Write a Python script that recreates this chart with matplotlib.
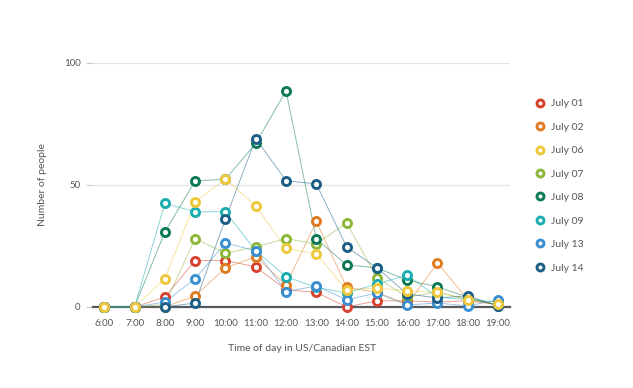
import matplotlib
matplotlib.use('Agg')
import matplotlib.pyplot as plt

plt.rcParams['font.family'] = ['Lato', 'DejaVu Sans']

hours = ['6:00', '7:00', '8:00', '9:00', '10:00', '11:00', '12:00',
         '13:00', '14:00', '15:00', '16:00', '17:00', '18:00', '19:00']

july01 = [0, 0, 4, 19, 19, 16.4, 7, 6, 0, 2.5, 2.5, 2, 2.5, 1]
july02 = [0, 0, 0, 4.5, 16, 20.5, 9, 35, 8, 6, 1, 18, 3, 1]
july06 = [0, 0, 11.5, 43, 52.5, 41.4, 24, 21.7, 7, 7.8, 6.5, 6, 3, 1]
july07 = [0, 0, 1, 28, 22, 24.6, 28, 25.8, 34.4, 12, 4, 6.1, 3, 1]
july08 = [0, 0, 30.7, 51.6, 52.3, 67, 88.5, 27.9, 17.2, 16, 11, 8.2, 4, 0.5]
july09 = [0, 0, 42.4, 39, 39, 23, 12.4, 8, 5.7, 9.4, 13, 4, 3, 2]
july13 = [0, 0, 2, 11.5, 26.2, 23, 6.3, 8.6, 2.9, 5.7, 0.8, 1.6, 0.4, 2.9]
july14 = [0, 0, 0, 1.6, 36, 69, 51.7, 50.4, 24.6, 16, 5.3, 3.7, 4.5, 0.4]

names = ['July 01', 'July 02', 'July 06', 'July 07',
         'July 08', 'July 09', 'July 13', 'July 14']
series = [july01, july02, july06, july07, july08, july09, july13, july14]
colors = ['#d9412f', '#e07b22', '#efc73a', '#8cb73a',
          '#0b7a55', '#1badb0', '#3a8fd0', '#1b5f86']
# yellow markers sit on top where they overlap (10:00)
mark_z = [3, 3, 3.9, 3, 3, 3, 3, 3]

text_col = '#555555'


def main():
    fig = plt.figure(figsize=(6.33, 3.88), dpi=100)
    ax = fig.add_axes([0.147, 0.209, 0.659, 0.629])

    x = list(range(len(hours)))
    handles = []
    for vals, c, n, z in zip(series, colors, names, mark_z):
        ax.plot(x, vals, color=c, lw=0.7, alpha=0.5, zorder=2, clip_on=False)
        ax.plot(x, vals, ls='none', marker='o', ms=5.8, mfc='white', mec=c,
                mew=2.1, zorder=z, clip_on=False)
        h, = ax.plot([], [], ls='none', marker='o', ms=5.0, mfc='white',
                     mec=c, mew=2.1, label=n)
        handles.append(h)

    ax.set_xlim(-0.37, 13.4)
    ax.set_ylim(0, 100)
    ax.set_xticks(x)
    ax.set_xticklabels(hours)
    ax.set_yticks([0, 50, 100])
    ax.grid(axis='y', color='#e4e4e4', lw=0.9)
    ax.set_axisbelow(True)

    for s in ['top', 'right', 'left']:
        ax.spines[s].set_visible(False)
    ax.spines['bottom'].set_color('#555a5e')
    ax.spines['bottom'].set_linewidth(1.6)
    ax.spines['bottom'].set_zorder(1)

    ax.tick_params(axis='x', length=0, pad=9, labelsize=7, labelcolor=text_col)
    ax.tick_params(axis='y', length=5, width=0.8, color='#cccccc', pad=4,
                   labelsize=7, labelcolor=text_col)

    ax.set_ylabel('Number of people', fontsize=7.5, color=text_col, labelpad=12)
    ax.set_xlabel('Time of day in US/Canadian EST', fontsize=7.5,
                  color=text_col, labelpad=11)

    fig.legend(handles=handles, loc='upper left',
               bbox_to_anchor=(0.832, 0.769), frameon=False, fontsize=7.5,
               handlelength=0.8, handletextpad=0.6, labelspacing=1.36,
               labelcolor=text_col)

    fig.savefig('out.png', dpi=100)


if __name__ == '__main__':
    main()
